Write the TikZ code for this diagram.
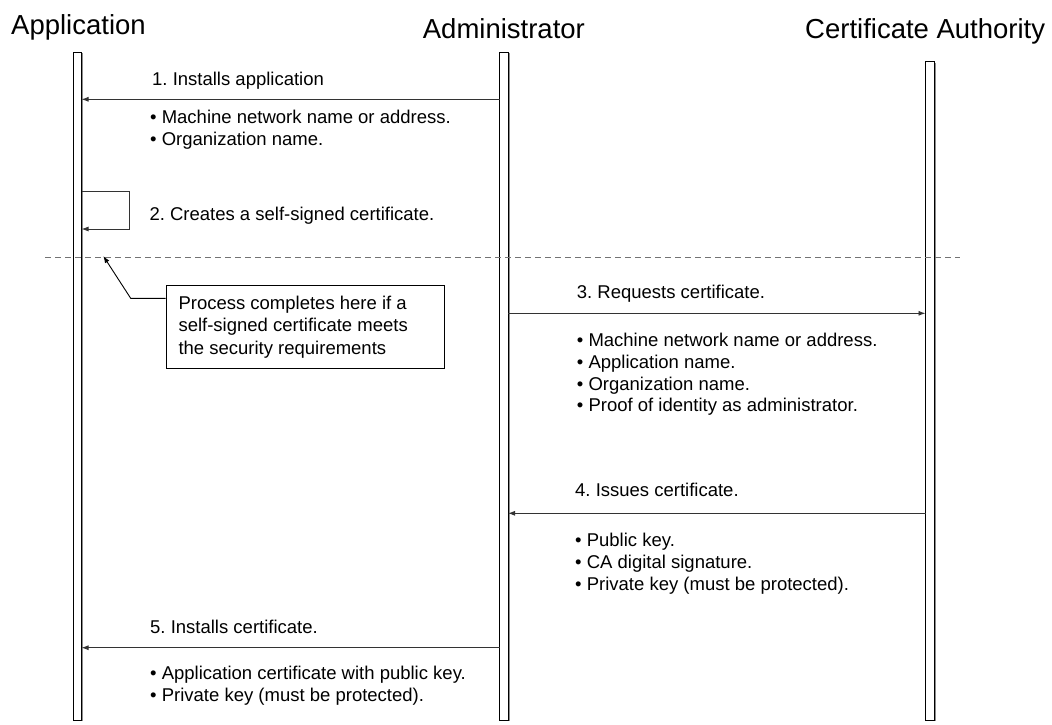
\documentclass[tikz,border=0pt]{standalone}
\usepackage{fontspec}
\setmainfont{Liberation Sans}
\usetikzlibrary{arrows.meta}
\frenchspacing
\begin{document}
\begin{tikzpicture}[x=1pt,y=-1pt,
  lbl/.style={anchor=base west,inner sep=0pt,font=\fontsize{18.5}{22}\selectfont},
  ttl/.style={anchor=base west,inner sep=0pt,font=\fontsize{27.5}{33}\selectfont},
  bar/.style={draw=black,line width=0.9pt,fill=white},
  shadow/.style={draw=black!45,line width=0.9pt},
  msg/.style={draw=black!80,line width=0.9pt,-{Latex[length=7pt,width=5pt]}},
  callout/.style={draw=black,line width=0.9pt,fill=white,minimum width=278pt,minimum height=83pt,inner sep=0pt},
  sep/.style={draw=black!55,line width=0.9pt,dash pattern=on 6pt off 4pt},
]
\useasboundingbox (0,0) rectangle (1052,724);
% titles
\node[ttl] (tapp) at (11,34.5) {Application};
\node[ttl] (tadm) at (422.7,38.5) {Administrator};
\node[ttl] (tca) at (805,38) {Certificate Authority};
% lifelines
\draw[shadow] (82.5,53) -- (82.5,721);
\draw[shadow] (509,53) -- (509,721);
\draw[shadow] (935,62.5) -- (935,721);
\draw[bar] (73.5,52) rectangle (81.5,720.5);
\draw[bar] (499.5,52) rectangle (508,720.5);
\draw[bar] (925.5,61.5) rectangle (934,720.5);
\coordinate (appR1) at (81.5,99.3);
\coordinate (admL1) at (499.5,99.3);
\coordinate (appR2a) at (81.5,191.7);
\coordinate (appR2b) at (81.5,229);
\coordinate (admR3) at (508,313.3);
\coordinate (caL3) at (925.5,313.3);
\coordinate (caL4) at (925.5,513.3);
\coordinate (admR4) at (508,513.3);
\coordinate (admL5) at (499.5,647.7);
\coordinate (appR5) at (81.5,647.7);
% 1
\draw[msg] (admL1) -- (appR1);
\node[lbl] (m1) at (152,85) {1. Installs application};
\node[lbl] (m1a) at (150,123) {\textbullet{} Machine network name or address.};
\node[lbl] (m1b) at (150,145) {\textbullet{} Organization name.};
% 2
\draw[msg] (appR2a) -- (129.3,191.7) |- (appR2b);
\node[lbl] (m2) at (149.3,220.5) {2. Creates a self-signed certificate.};
% separator
\coordinate (sepL) at (45,257.3);
\coordinate (sepR) at (960,257.3);
\draw[sep] (sepL) -- (sepR);
% callout
\node[callout] (note) at (305,326.5) {};
\coordinate (leadA) at (130.7,298.3);
\coordinate (leadTip) at (103.3,256);
\draw[line width=0.9pt,-{Latex[length=7pt,width=5pt]}] (note.west |- leadA) -- (leadA) -- (leadTip);
\node[lbl] (n1) at (178.3,309.3) {Process completes here if a};
\node[lbl] (n2) at (178.3,331.7) {self-signed certificate meets};
\node[lbl] (n3) at (178.3,354) {the security requirements};
% 3
\draw[msg] (admR3) -- (caL3);
\node[lbl] (m3) at (576.7,298.3) {3. Requests certificate.};
\node[lbl] (m3a) at (576.7,346.7) {\textbullet{} Machine network name or address.};
\node[lbl] (m3b) at (576.7,368.3) {\textbullet{} Application name.};
\node[lbl] (m3c) at (576.7,390) {\textbullet{} Organization name.};
\node[lbl] (m3d) at (576.7,411.7) {\textbullet{} Proof of identity as administrator.};
% 4
\draw[msg] (caL4) -- (admR4);
\node[lbl] (m4) at (575,496.7) {4. Issues certificate.};
\node[lbl] (m4a) at (575,546.7) {\textbullet{} Public key.};
\node[lbl] (m4b) at (575,568.3) {\textbullet{} CA digital signature.};
\node[lbl] (m4c) at (575,590) {\textbullet{} Private key (must be protected).};
% 5
\draw[msg] (admL5) -- (appR5);
\node[lbl] (m5) at (150,633.3) {5. Installs certificate.};
\node[lbl] (m5a) at (150,679.3) {\textbullet{} Application certificate with public key.};
\node[lbl] (m5b) at (150,701) {\textbullet{} Private key (must be protected).};
\end{tikzpicture}
\end{document}
